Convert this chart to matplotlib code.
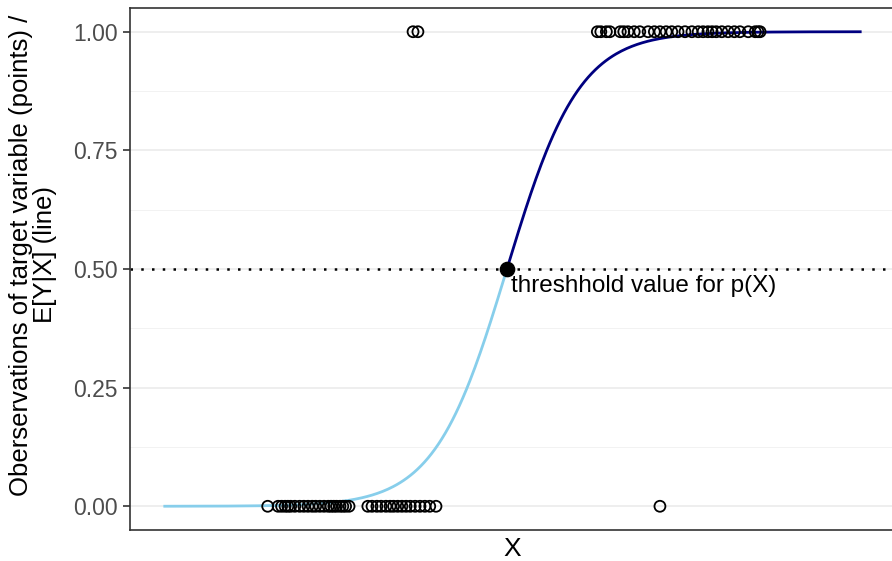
import numpy as np
import matplotlib.pyplot as plt

plt.rcParams['font.family'] = ['Liberation Sans', 'DejaVu Sans']

# observed points (x position, 0/1 outcome)
x_zero = [14.8, 16.3, 16.8, 17.3, 17.7, 18.1, 18.7, 19.4, 20.0, 20.6, 21.2, 21.7,
          22.3, 22.9, 23.5, 23.9, 24.3, 24.7, 25.2, 25.6, 26.0, 26.5,
          29.2, 29.8, 30.5, 31.1, 31.8, 32.4, 32.9, 33.5, 34.1, 34.7, 35.3,
          36.0, 36.7, 37.4, 38.1, 39.0, 71.2]
x_one = [35.7, 36.4, 62.2, 62.7, 63.5, 64.0, 65.5, 66.0, 66.6, 67.5, 68.3, 69.5,
         70.4, 71.2, 72.1, 72.9, 73.8, 74.8, 75.8, 76.7, 77.4, 78.1, 78.7,
         79.3, 80.1, 81.0, 81.9, 82.7, 83.9, 84.9, 85.3, 85.6]

# fitted logistic model E[Y|X]
x_min, x_max = 0.0, 100.0
center = 49.2
slope = 0.192
threshold = 0.5

xs = np.linspace(x_min, x_max, 400)
p = 1 / (1 + np.exp(-slope * (xs - center)))

fig = plt.figure(figsize=(8.92, 5.61), dpi=100)
ax = fig.add_axes([130 / 892, 31 / 561, 765 / 892, 522 / 561])

# grid lines like ggplot
for y in [0, 0.25, 0.5, 0.75, 1.0]:
    ax.axhline(y, color='#EBEBEB', lw=1.2, zorder=0)
for y in [0.125, 0.375, 0.625, 0.875]:
    ax.axhline(y, color='#F2F2F2', lw=0.7, zorder=0)

ax.axhline(threshold, color='black', lw=1.8, ls=(0, (1, 3.3)), zorder=1)

low = p <= threshold
ax.plot(xs[low], p[low], color='#87CEEB', lw=2.0, zorder=2)
ax.plot(xs[~low], p[~low], color='#000080', lw=2.0, zorder=2)

ax.scatter(x_zero, np.zeros(len(x_zero)), s=62, facecolors='none',
           edgecolors='black', linewidths=1.3, zorder=3)
ax.scatter(x_one, np.ones(len(x_one)), s=62, facecolors='none',
           edgecolors='black', linewidths=1.3, zorder=3)

ax.scatter([center], [threshold], s=105, color='black', zorder=4)
ax.text(center + 0.6, threshold - 0.012, 'threshhold value for p(X)',
        fontsize=17.5, ha='left', va='top', color='black')

ax.set_xlim(x_min - 5, x_max + 5)
ax.set_ylim(-0.05, 1.05)
ax.set_yticks([0, 0.25, 0.5, 0.75, 1.0])
ax.set_yticklabels(['0.00', '0.25', '0.50', '0.75', '1.00'])
ax.set_xticks([])
ax.tick_params(axis='y', labelsize=16.5, labelcolor='#4D4D4D', color='#333333',
               length=5, width=1.2, pad=4)

for s in ax.spines.values():
    s.set_color('#333333')
    s.set_linewidth(1.2)

ax.set_xlabel('X', fontsize=19, labelpad=5)
ax.set_ylabel('Oberservations of target variable (points) /\nE[Y|X] (line)',
              fontsize=18.5, linespacing=1.0)
ax.yaxis.set_label_coords(-0.096, 0.527)

fig.savefig('out.png', dpi=100)
